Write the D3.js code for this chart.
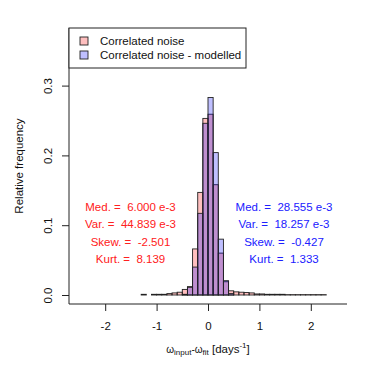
<!DOCTYPE html>
<html>
<head>
<meta charset="utf-8">
<script src="https://cdn.jsdelivr.net/npm/d3@7"></script>
<style>
body { margin: 0; background: white; }
text { font-family: "Liberation Sans", Arial, sans-serif; }
</style>
</head>
<body>
<svg id="chart" width="374" height="374"></svg>
<script>
// bin left edges (width 0.1)
var binLeft = [-1.3,-1.2,-1.1,-1.0,-0.9,-0.8,-0.7,-0.6,-0.5,-0.4,-0.3,-0.2,-0.1,0.0,0.1,0.2,0.3,0.4,
               0.5,0.6,0.7,0.8,0.9,1.0,1.1,1.2,1.3,1.4,1.5,1.6,1.7,1.8,1.9,2.0,2.1,2.2];
var binWidth = 0.1;

// relative frequency - correlated noise
var noise = [0.001,0,0.001,0.001,0.001,0.002,0.003,0.004,0.008,0.012,0.066,0.147,0.253,0.259,0.158,0.060,0.019,0.006,
             0.0045,0.004,0.0035,0.003,0.0015,0.0015,0.001,0.001,0.001,0.001,0.0005,0.0005,0.0005,0.0005,0.0005,0.0005,0.0005,0.0005];

// relative frequency - correlated noise modelled
var modelled = [0,0,0,0,0,0,0,0,0.001,0.011,0.040,0.117,0.246,0.283,0.204,0.080,0.0205,0.002,
                0,0,0,0,0,0,0,0,0,0,0,0,0,0,0,0,0,0];

var xTicks = [-2,-1,0,1,2];
var yTicks = [0,0.1,0.2,0.3];
var yTickLabels = ["0.0","0.1","0.2","0.3"];

var legendLabels = ["Correlated noise","Correlated noise - modelled"];
var redStats = ["Med. =  6.000 e-3","Var. =  44.839 e-3","Skew. =  -2.501","Kurt. =  8.139"];
var blueStats = ["Med. =  28.555 e-3","Var. =  18.257 e-3","Skew. =  -0.427","Kurt. =  1.333"];

var colRed = "rgba(255,0,0,0.25)";
var colBlue = "rgba(0,0,255,0.25)";

// plot region
var pLeft = 69, pRight = 347, pTop = 28, pBottom = 304;
var fs = "11.5px";

var svg = d3.select("#chart");

var x = d3.scaleLinear()
    .domain([-2.704, 2.704])
    .range([pLeft, pRight]);

var y = d3.scaleLinear()
    .domain([0, 0.3])
    .range([295, 85.6]);

function drawHist(vals, col) {
    var g = svg.append("g");
    g.selectAll("rect")
        .data(vals)
        .enter()
        .append("rect")
        .attr("x", function(d,i){ return x(binLeft[i]); })
        .attr("width", function(d,i){ return x(binLeft[i] + binWidth) - x(binLeft[i]); })
        .attr("y", function(d){ return y(d); })
        .attr("height", function(d){ return y(0) - y(d); })
        .style("fill", col)
        .style("stroke", "#222")
        .style("stroke-width", 0.9);
}

drawHist(noise, colRed);
drawHist(modelled, colBlue);

// L box
svg.append("path")
    .attr("d", "M" + pLeft + "," + pTop + "V" + pBottom + "H" + pRight)
    .style("fill", "none")
    .style("stroke", "#222")
    .style("stroke-width", 1);

// x axis
var xAxis = svg.append("g")
    .attr("transform", "translate(0," + pBottom + ")")
    .call(d3.axisBottom(x).tickValues(xTicks).tickSize(7).tickPadding(11)
        .tickFormat(function(d){ return d; }));
xAxis.select(".domain").remove();
xAxis.selectAll("line").style("stroke", "#222");
xAxis.selectAll("text")
    .style("font-size", fs)
    .style("fill", "#111");

// y axis
var yAxis = svg.append("g")
    .attr("transform", "translate(" + pLeft + ",0)")
    .call(d3.axisLeft(y).tickValues(yTicks).tickSize(7)
        .tickFormat(function(d,i){ return yTickLabels[i]; }));
yAxis.select(".domain").remove();
yAxis.selectAll("line").style("stroke", "#222");
yAxis.selectAll("text")
    .attr("x", 0)
    .attr("dy", 0)
    .attr("transform", "translate(-17,0) rotate(-90)")
    .style("text-anchor", "middle")
    .style("font-size", fs)
    .style("fill", "#111");

// axis titles
svg.append("text")
    .attr("transform", "translate(23," + ((pTop + pBottom) / 2) + ") rotate(-90)")
    .style("text-anchor", "middle")
    .style("font-size", fs)
    .style("fill", "#111")
    .text("Relative frequency");

var xt = svg.append("text")
    .attr("x", 208)
    .attr("y", 353)
    .style("text-anchor", "middle")
    .style("font-size", fs)
    .style("fill", "#111");
xt.append("tspan").style("font-size", "10px").text("ω");
xt.append("tspan").attr("dy", 2).style("font-size", "8px").text("input");
xt.append("tspan").attr("dy", -2).style("font-size", "10px").text("-ω");
xt.append("tspan").attr("dy", 2).style("font-size", "8px").text("fit");
xt.append("tspan").attr("dy", -2).style("white-space", "pre").text(" [days");
xt.append("tspan").attr("dy", -5).style("font-size", "8px").text("-1");
xt.append("tspan").attr("dy", 5).text("]");

// stats
function drawStats(lines, cx, col) {
    svg.append("g").selectAll("text")
        .data(lines)
        .enter()
        .append("text")
        .attr("x", cx)
        .attr("y", function(d,i){ return 210.5 + i * 17.5; })
        .style("text-anchor", "middle")
        .style("white-space", "pre")
        .style("font-size", fs)
        .style("fill", col)
        .text(function(d){ return d; });
}
drawStats(redStats, 130.5, "#ff2020");
drawStats(blueStats, 284, "#2020ff");

// legend
var legend = svg.append("g");
legend.append("rect")
    .attr("x", pLeft)
    .attr("y", pTop)
    .attr("width", 177)
    .attr("height", 40)
    .style("fill", "white")
    .style("stroke", "#222")
    .style("stroke-width", 1);
legend.selectAll("rect.key")
    .data([colRed, colBlue])
    .enter()
    .append("rect")
    .attr("class", "key")
    .attr("x", 80)
    .attr("y", function(d,i){ return 37 + i * 14; })
    .attr("width", 8)
    .attr("height", 8)
    .style("fill", function(d){ return d; })
    .style("stroke", "#222")
    .style("stroke-width", 0.9);
legend.selectAll("text")
    .data(legendLabels)
    .enter()
    .append("text")
    .attr("x", 100)
    .attr("y", function(d,i){ return 45 + i * 14; })
    .style("font-size", fs)
    .style("fill", "#111")
    .text(function(d){ return d; });
</script>
</body>
</html>
